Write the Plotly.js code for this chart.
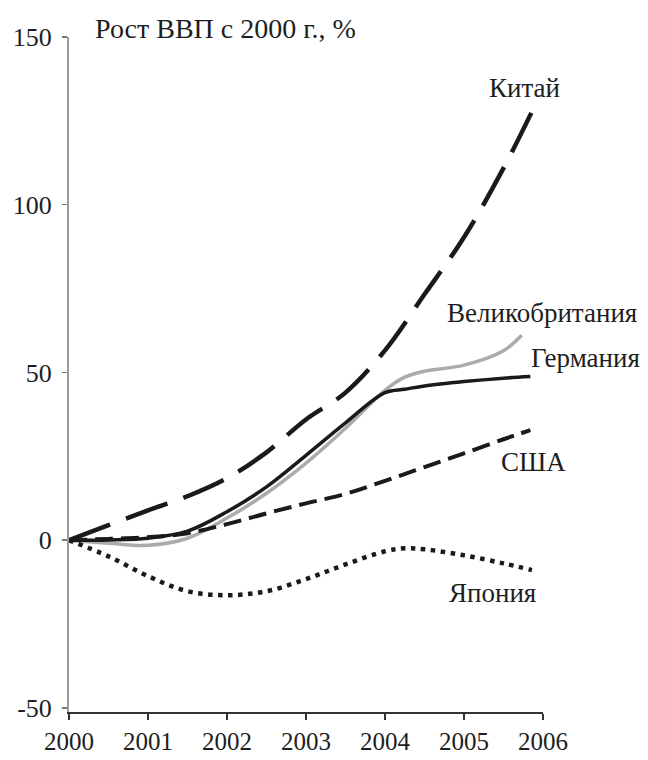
<!DOCTYPE html>
<html>
<head>
<meta charset="utf-8">
<script src="https://cdn.plot.ly/plotly-3.0.1.min.js"></script>
<style>html,body{margin:0;padding:0;background:#fff;}#chart{width:648px;height:760px;}</style>
</head>
<body>
<div id="chart"></div>
<script>
// Data (growth of GDP since 2000, %)
const tickYears = [2000, 2001, 2002, 2003, 2004, 2005, 2006];
const yTicks = [-50, 0, 50, 100, 150];

const chinaX = [2000, 2000.5, 2001, 2001.5, 2002, 2002.5, 2003, 2003.5, 2004, 2004.5, 2005, 2005.5, 2005.9];
const chinaY = [0, 4.5, 8.9, 13.1, 18.5, 26.2, 36.0, 44.0, 56.6, 73.3, 90.3, 110.9, 129.7];

const ukX = [2000, 2000.5, 2001, 2001.5, 2002, 2002.5, 2003, 2003.5, 2004, 2004.25, 2004.5, 2005, 2005.5, 2005.73];
const ukY = [0, -0.9, -1.5, 0.6, 6.6, 14.0, 23.0, 33.4, 44.7, 48.6, 50.4, 52.2, 56.5, 61.1];

const germanyX = [2000, 2000.5, 2001, 2001.5, 2002, 2002.5, 2003, 2003.5, 2004, 2004.25, 2004.5, 2005, 2005.5, 2005.84];
const germanyY = [0, 0.1, 0.6, 2.7, 8.5, 15.9, 25.3, 35.0, 44.0, 45.0, 46.0, 47.3, 48.3, 48.8];

const usaX = [2000, 2000.5, 2001, 2001.5, 2002, 2002.5, 2003, 2003.5, 2004, 2004.5, 2005, 2005.5, 2005.84];
const usaY = [0, 0.4, 0.9, 2.1, 4.8, 8.0, 11.0, 13.8, 17.7, 21.8, 25.9, 30.1, 32.8];

const japanX = [2000, 2000.5, 2001, 2001.5, 2002, 2002.5, 2003, 2003.5, 2004, 2004.25, 2004.5, 2005, 2005.5, 2005.86];
const japanY = [0, -4.8, -10.7, -15.2, -16.4, -15.2, -11.6, -7.2, -3.3, -2.4, -2.7, -4.5, -6.9, -8.9];

const seriesNames = ['Китай', 'Великобритания', 'Германия', 'США', 'Япония'];
const titleText = 'Рост ВВП с 2000 г., %';

const FONT = '"Liberation Serif", "Times New Roman", serif';
const TXT = '#1e1e1e';

const traces = [
  {x: chinaX, y: chinaY, name: seriesNames[0], mode: 'lines',
   line: {color: '#1a1a1a', width: 4.5, dash: '44px,17px', shape: 'spline', smoothing: 1}},
  {x: ukX, y: ukY, name: seriesNames[1], mode: 'lines',
   line: {color: '#ababab', width: 3.5, shape: 'spline', smoothing: 1}},
  {x: germanyX, y: germanyY, name: seriesNames[2], mode: 'lines',
   line: {color: '#1a1a1a', width: 3.5, shape: 'spline', smoothing: 1}},
  {x: usaX, y: usaY, name: seriesNames[3], mode: 'lines',
   line: {color: '#1a1a1a', width: 4, dash: '18px,8px', shape: 'spline', smoothing: 1}},
  {x: japanX, y: japanY, name: seriesNames[4], mode: 'lines',
   line: {color: '#1a1a1a', width: 4.5, dash: '4.5px,5.5px', shape: 'spline', smoothing: 1}}
];

// label positions in paper fractions
const labelPos = [
  [0.962, 0.924],
  [0.997, 0.591],
  [1.089, 0.524],
  [0.980, 0.370],
  [0.893, 0.176]
];

const annotations = seriesNames.map((n, i) => ({
  text: n, xref: 'paper', yref: 'paper', x: labelPos[i][0], y: labelPos[i][1],
  xanchor: 'center', yanchor: 'middle', showarrow: false,
  font: {family: FONT, size: 27, color: TXT}
}));

const layout = {
  width: 648, height: 760,
  margin: {l: 69, r: 105, t: 37, b: 48, pad: 0},
  paper_bgcolor: '#ffffff', plot_bgcolor: '#ffffff',
  showlegend: false,
  title: {text: titleText, x: 95/648, xanchor: 'left', xref: 'container',
          y: 1 - 28/760, yanchor: 'middle', yref: 'container',
          font: {family: FONT, size: 28, color: TXT}},
  xaxis: {
    range: [2000, 2006], tickvals: tickYears, ticktext: tickYears.map(String),
    showgrid: false, zeroline: false, showline: true, linecolor: '#333', linewidth: 1.5,
    ticks: 'outside', ticklen: 6, tickwidth: 1.5, tickcolor: '#333',
    tickfont: {family: FONT, size: 25, color: TXT}, ticklabelstandoff: 0
  },
  yaxis: {
    range: [-51.2, 150], tickvals: yTicks, ticktext: yTicks.map(String),
    showgrid: false, zeroline: false, showline: true, linecolor: '#9a9a9a', linewidth: 2,
    ticks: 'outside', ticklen: 5, tickwidth: 1.5, tickcolor: '#777',
    tickfont: {family: FONT, size: 26, color: TXT}, ticklabelstandoff: 5
  },
  annotations: annotations
};

Plotly.newPlot('chart', traces, layout, {displayModeBar: false, staticPlot: true});
</script>
</body>
</html>
